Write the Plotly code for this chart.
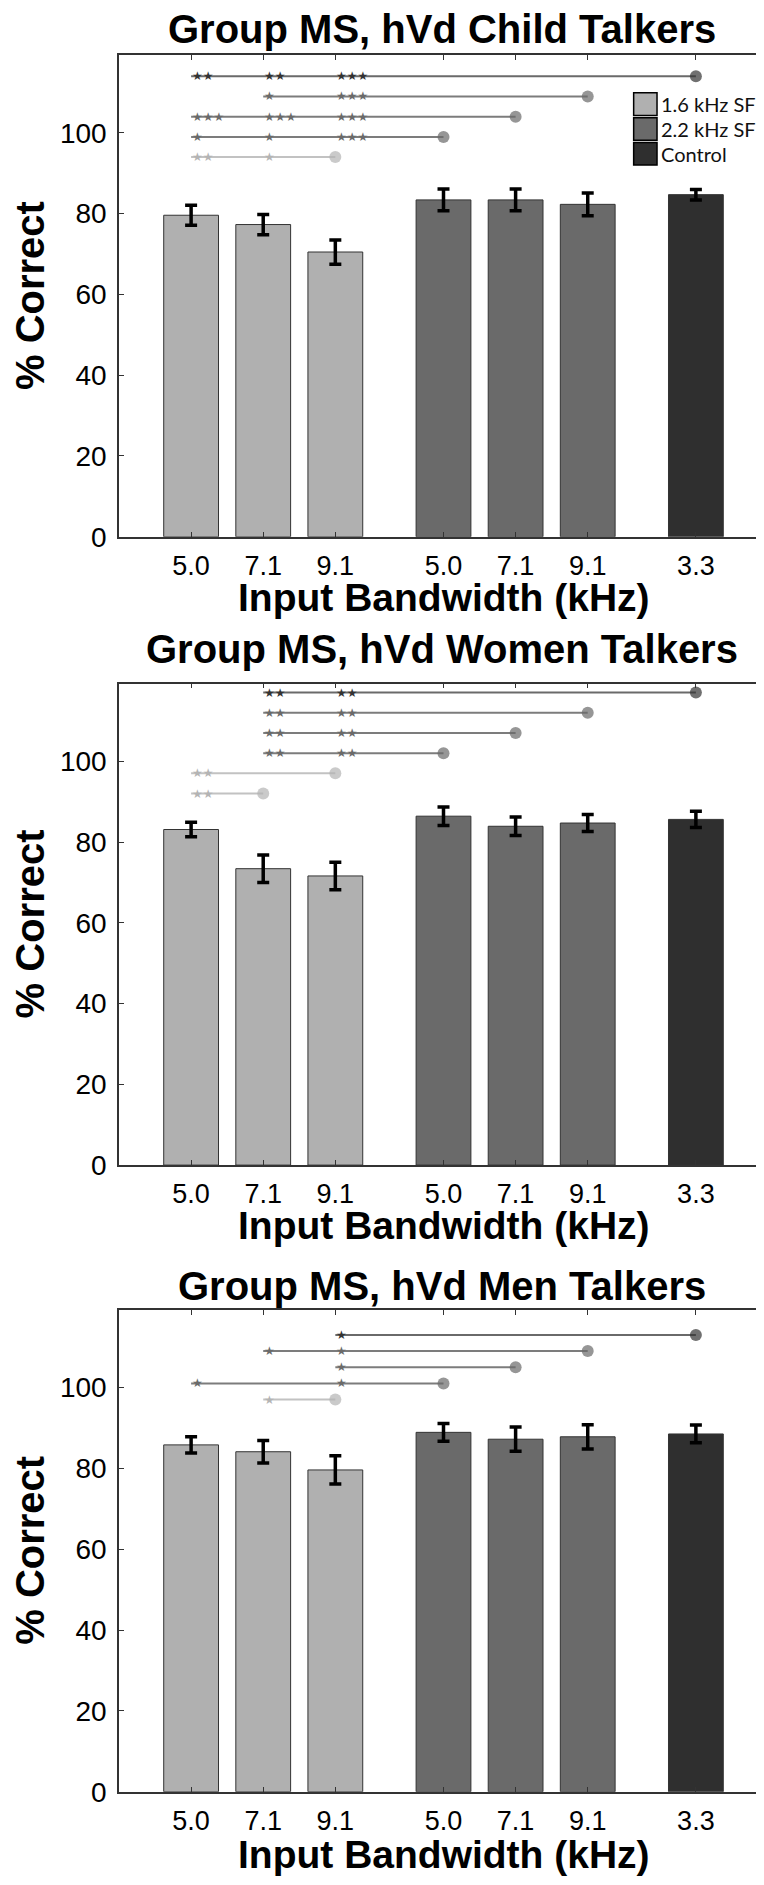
import plotly.graph_objects as go

# ---------------- data ----------------
BANDWIDTH_LABELS = ["5.0", "7.1", "9.1", "5.0", "7.1", "9.1", "3.3"]
GROUP_OF_BAR = ["1.6 kHz SF", "1.6 kHz SF", "1.6 kHz SF",
                "2.2 kHz SF", "2.2 kHz SF", "2.2 kHz SF", "Control"]
GROUP_NAMES = ["1.6 kHz SF", "2.2 kHz SF", "Control"]

PANEL_TITLES = ["Group MS, hVd Child Talkers",
                "Group MS, hVd Women Talkers",
                "Group MS, hVd Men Talkers"]

child_mean = [79.6, 77.3, 70.5, 83.4, 83.4, 82.3, 84.7]
child_err = [2.5, 2.5, 3.0, 2.7, 2.7, 2.8, 1.3]
women_mean = [83.1, 73.4, 71.6, 86.4, 83.9, 84.7, 85.6]
women_err = [1.8, 3.4, 3.4, 2.3, 2.3, 2.1, 2.0]
men_mean = [85.8, 84.1, 79.6, 88.9, 87.2, 87.8, 88.5]
men_err = [2.0, 2.8, 3.5, 2.2, 3.0, 3.0, 2.2]

# significance rows: level (% correct), target bar index, {source bar index: stars}
child_sig_level = [114, 109, 104, 99, 94]
child_sig_target = [6, 5, 4, 3, 2]
child_sig_marks = [{0: "**", 1: "**", 2: "***"},
                   {1: "*", 2: "***"},
                   {0: "***", 1: "***", 2: "***"},
                   {0: "*", 1: "*", 2: "***"},
                   {0: "**", 1: "*"}]

women_sig_level = [117, 112, 107, 102, 97, 92]
women_sig_target = [6, 5, 4, 3, 2, 1]
women_sig_marks = [{1: "**", 2: "**"},
                   {1: "**", 2: "**"},
                   {1: "**", 2: "**"},
                   {1: "**", 2: "**"},
                   {0: "**"},
                   {0: "**"}]

men_sig_level = [113, 109, 105, 101, 97]
men_sig_target = [6, 5, 4, 3, 2]
men_sig_marks = [{2: "*"},
                 {1: "*", 2: "*"},
                 {2: "*"},
                 {0: "*", 2: "*"},
                 {1: "*"}]

# ---------------- layout / style ----------------
W, H = 764, 1885
SLOTS = [1, 2, 3, 4.5, 5.5, 6.5, 8]          # bar slots on the x axis
X_RANGE = [0, 9]
Y_RANGE = [0, 119.2]
PLOT_LEFT, PLOT_RIGHT = 111, 760
PANEL_BOX = [(47.7, 533.3), (681.5, 1167.0), (1313.0, 1799.0)]   # (top, bottom) px
TITLE_Y = [21.5, 646.5, 1288.5]
XTITLE_Y = [595, 1228, 1862]

BAR_COLORS = {"1.6 kHz SF": "#b0b0b0", "2.2 kHz SF": "#6a6a6a", "Control": "#2f2f2f"}
STAR_COLORS = {"1.6 kHz SF": "#b4b4b4", "2.2 kHz SF": "#6a6a6a", "Control": "#333333"}
LINE_COLORS = {"1.6 kHz SF": "#c2c2c2", "2.2 kHz SF": "#7c7c7c", "Control": "#6a6a6a"}

FONT = "Liberation Sans, Arial, Helvetica, sans-serif"


def fx(p):
    return p / W


def fy(p):
    return 1 - p / H


panels = [
    (child_mean, child_err, child_sig_level, child_sig_target, child_sig_marks),
    (women_mean, women_err, women_sig_level, women_sig_target, women_sig_marks),
    (men_mean, men_err, men_sig_level, men_sig_target, men_sig_marks),
]

fig = go.Figure()
annotations = []
shapes = []

for p, (means, errs, levels, targets, marks) in enumerate(panels):
    sfx = "" if p == 0 else str(p + 1)
    xa, ya = "x" + sfx, "y" + sfx

    # bars
    for g in GROUP_NAMES:
        idx = [i for i, gg in enumerate(GROUP_OF_BAR) if gg == g]
        fig.add_trace(go.Bar(
            x=[SLOTS[i] for i in idx], y=[means[i] for i in idx],
            width=0.76, name=g, showlegend=False,
            marker=dict(color=BAR_COLORS[g], line=dict(color="#333333", width=1)),
            error_y=dict(type="data", array=[errs[i] for i in idx],
                         color="black", thickness=3.5, width=6),
            xaxis=xa, yaxis=ya))

    # significance lines
    for lev, tgt, mk in zip(levels, targets, marks):
        g = GROUP_OF_BAR[tgt]
        start = min(mk.keys())
        fig.add_trace(go.Scatter(
            x=[SLOTS[start], SLOTS[tgt]], y=[lev, lev], mode="lines+markers",
            line=dict(color=LINE_COLORS[g], width=2),
            marker=dict(size=[0, 12], color=STAR_COLORS[g], line=dict(width=0)),
            showlegend=False, hoverinfo="skip", xaxis=xa, yaxis=ya))
        for src, stars in mk.items():
            annotations.append(dict(
                x=SLOTS[src], y=lev, xref=xa, yref=ya, xanchor="left", yanchor="middle",
                text="★" * len(stars), showarrow=False, borderpad=0,
                font=dict(family="DejaVu Sans", size=12, color=STAR_COLORS[g])))

    top, bottom = PANEL_BOX[p]
    axis_common = dict(showline=True, linecolor="#333333", linewidth=1.5, mirror="ticks",
                       ticks="inside", ticklen=5, tickwidth=1, tickcolor="#333333",
                       showgrid=False, zeroline=False)
    fig.update_layout(**{
        ("xaxis" + sfx): dict(domain=[fx(PLOT_LEFT), fx(PLOT_RIGHT)], range=X_RANGE,
                              tickmode="array", tickvals=SLOTS, ticktext=BANDWIDTH_LABELS,
                              anchor=ya, ticklabelstandoff=4,
                              tickfont=dict(family=FONT, size=27, color="black"),
                              **axis_common),
        ("yaxis" + sfx): dict(domain=[fy(bottom), fy(top)], range=Y_RANGE,
                              tickmode="array", tickvals=[0, 20, 40, 60, 80, 100],
                              anchor=xa, ticklabelstandoff=5,
                              tickfont=dict(family=FONT, size=28, color="black"),
                              **axis_common),
    })

    # titles
    annotations.append(dict(x=fx((PLOT_LEFT + PLOT_RIGHT) / 2 - 2), y=fy(TITLE_Y[p]),
                            xref="paper", yref="paper", xanchor="center", yanchor="middle",
                            text="<b>" + PANEL_TITLES[p] + "</b>", showarrow=False,
                            font=dict(family=FONT, size=40, color="black")))
    annotations.append(dict(x=fx(435.5), y=fy(XTITLE_Y[p]),
                            xref="paper", yref="paper", xanchor="center", yanchor="middle",
                            text="<b>Input Bandwidth (kHz)</b>", showarrow=False,
                            font=dict(family=FONT, size=39, color="black")))
    annotations.append(dict(x=fx(22), y=fy((top + bottom) / 2),
                            xref="paper", yref="paper", xanchor="center", yanchor="middle",
                            text="<b>% Correct</b>", textangle=-90, showarrow=False,
                            font=dict(family=FONT, size=40, color="black")))

# legend (panel 1, upper right)
leg_x0, leg_x1 = 0.793, 0.829
leg_y = [0.8985, 0.847, 0.7955]
half = 0.0235
for g, yc in zip(GROUP_NAMES, leg_y):
    shapes.append(dict(type="rect", xref="x domain", yref="y domain",
                       x0=leg_x0, x1=leg_x1, y0=yc - half, y1=yc + half,
                       fillcolor=BAR_COLORS[g], line=dict(color="black", width=1.5)))
    annotations.append(dict(x=0.834, y=yc, xref="x domain", yref="y domain",
                            xanchor="left", yanchor="middle", text=g, showarrow=False,
                            borderpad=0,
                            font=dict(family="Lato, Open Sans, sans-serif", size=20,
                                      color="#111111")))

fig.update_layout(width=W, height=H, margin=dict(l=0, r=0, t=0, b=0, pad=0),
                  paper_bgcolor="white", plot_bgcolor="white",
                  barmode="overlay", showlegend=False,
                  annotations=annotations, shapes=shapes)

fig.write_html("out.html")
